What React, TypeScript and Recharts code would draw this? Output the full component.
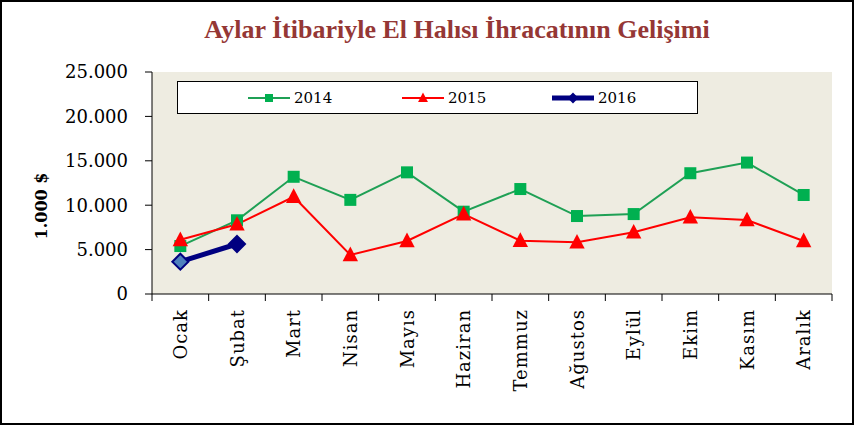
import React from 'react';
import { LineChart, Line, XAxis, YAxis, CartesianGrid, Legend, Label } from 'recharts';

const months = ['Ocak', 'Şubat', 'Mart', 'Nisan', 'Mayıs', 'Haziran', 'Temmuz', 'Ağustos', 'Eylül', 'Ekim', 'Kasım', 'Aralık'];
const values2014 = [5400, 8300, 13200, 10600, 13700, 9270, 11820, 8780, 9000, 13600, 14800, 11150];
const values2015 = [6100, 7850, 10950, 4400, 5970, 9000, 6000, 5820, 6950, 8640, 8330, 5970];
const values2016: (number | null)[] = [3640, 5630, null, null, null, null, null, null, null, null, null, null];
const yTicks = [0, 5000, 10000, 15000, 20000, 25000];

const data = months.map((m, i) => ({ month: m, y2014: values2014[i], y2015: values2015[i], y2016: values2016[i] }));

const TITLE = 'Aylar İtibariyle El Halısı İhracatının Gelişimi';
const Y_LABEL = '1.000 $';

const W = 854;
const H = 425;
const PLOT_LEFT = 152;
const PLOT_RIGHT = 832;
const PLOT_TOP = 72;
const PLOT_BOTTOM = 294;
const BAND = (PLOT_RIGHT - PLOT_LEFT) / months.length;

const GREEN_LINE = '#1FA055';
const GREEN = '#00B050';
const RED = '#FF0000';
const NAVY = '#000080';
const LIGHT_BLUE = '#4F81BD';
const SERIF = '"DejaVu Serif", serif';

const fmt = (v: number) => String(v).replace(/\B(?=(\d{3})+(?!\d))/g, '.');

const Square = ({ cx, cy, s = 12 }: any) => <rect x={cx - s / 2} y={cy - s / 2} width={s} height={s} fill={GREEN} />;
const Triangle = ({ cx, cy, s = 14 }: any) => (
  <polygon points={`${cx},${cy - s * 0.6} ${cx + s * 0.55},${cy + s * 0.45} ${cx - s * 0.55},${cy + s * 0.45}`} fill={RED} />
);
const Diamond = ({ cx, cy, s = 8, fill = NAVY }: any) => (
  <polygon points={`${cx},${cy - s} ${cx + s},${cy} ${cx},${cy + s} ${cx - s},${cy}`} fill={fill} stroke={NAVY} strokeWidth={2} />
);

const series = [
  { key: 'y2014', name: '2014', color: GREEN_LINE, width: 2 },
  { key: 'y2015', name: '2015', color: RED, width: 2 },
  { key: 'y2016', name: '2016', color: NAVY, width: 5 },
];

const XTick = (props: any) => {
  const { x, payload, index } = props;
  return (
    <g>
      <line x1={x - BAND / 2} x2={x - BAND / 2} y1={PLOT_BOTTOM} y2={PLOT_BOTTOM + 7} stroke="#000" strokeWidth={1} />
      {index === months.length - 1 && (
        <line x1={x + BAND / 2} x2={x + BAND / 2} y1={PLOT_BOTTOM} y2={PLOT_BOTTOM + 7} stroke="#000" strokeWidth={1} />
      )}
      <text
        x={x}
        y={PLOT_BOTTOM + 15}
        transform={`rotate(-90 ${x} ${PLOT_BOTTOM + 15})`}
        textAnchor="end"
        dominantBaseline="central"
        fontFamily={SERIF}
        fontSize={18}
        letterSpacing={1}
        fill="#000"
      >
        {payload.value}
      </text>
    </g>
  );
};

const LegendContent = (props: any) => {
  const payload = props.payload || [];
  const xs = [248, 402, 552];
  return (
    <svg width={521} height={33} style={{ display: 'block' }}>
      <rect x={0.5} y={0.5} width={520} height={32} fill="#fff" stroke="#000" strokeWidth={1} />
      {payload.map((p: any, i: number) => {
        const lx = xs[i] - 177;
        const cy = 17;
        const s = series.find((sr) => sr.key === p.dataKey) || series[i];
        return (
          <g key={p.value}>
            <line x1={lx} x2={lx + 42} y1={cy} y2={cy} stroke={s.color} strokeWidth={s.width} />
            {s.key === 'y2014' && <Square cx={lx + 21} cy={cy} s={8} />}
            {s.key === 'y2015' && <Triangle cx={lx + 21} cy={cy} s={9} />}
            {s.key === 'y2016' && <Diamond cx={lx + 21} cy={cy} s={4} />}
            <text x={lx + 46} y={cy} dominantBaseline="central" fontFamily={SERIF} fontSize={15} fill="#000">
              {p.value}
            </text>
          </g>
        );
      })}
    </svg>
  );
};

export default function App() {
  return (
    <div style={{ position: 'absolute', left: 0, top: 0, width: W, height: H, background: '#fff' }}>
      <div
        style={{
          position: 'absolute',
          left: 0,
          top: 15,
          width: 914,
          textAlign: 'center',
          fontFamily: '"Liberation Serif", serif',
          fontWeight: 'bold',
          fontSize: 26,
          color: '#953735',
          whiteSpace: 'nowrap',
        }}
      >
        {TITLE}
      </div>
      <LineChart
        width={W}
        height={H}
        data={data}
        margin={{ top: PLOT_TOP, right: W - PLOT_RIGHT, bottom: 31, left: 0 }}
      >
        <CartesianGrid fill="#EEECE1" horizontal={false} vertical={false} />
        <XAxis
          dataKey="month"
          interval={0}
          height={100}
          padding={{ left: BAND / 2, right: BAND / 2 }}
          tick={<XTick />}
          tickLine={false}
          axisLine={{ stroke: '#000', strokeWidth: 1 }}
        />
        <YAxis
          width={PLOT_LEFT}
          domain={[0, 25000]}
          ticks={yTicks}
          tickFormatter={fmt}
          tickSize={7}
          tickMargin={17}
          tickLine={{ stroke: '#000' }}
          axisLine={{ stroke: '#000', strokeWidth: 1 }}
          tick={{ fontFamily: SERIF, fontSize: 18, fill: '#000' }}
        >
          <Label
            content={() => (
              <text
                x={41}
                y={206}
                transform="rotate(-90 41 206)"
                textAnchor="middle"
                dominantBaseline="central"
                fontFamily={SERIF}
                fontWeight="bold"
                fontSize={16}
                fill="#000"
              >
                {Y_LABEL}
              </text>
            )}
          />
        </YAxis>
        <Legend
          layout="vertical"
          align="center"
          verticalAlign="middle"
          wrapperStyle={{ position: 'absolute', left: 177, top: 81, width: 521, height: 33 }}
          content={<LegendContent />}
        />
        <Line
          dataKey="y2014"
          name="2014"
          stroke={GREEN_LINE}
          strokeWidth={2}
          isAnimationActive={false}
          dot={(p: any) => <Square key={`a${p.index}`} cx={p.cx} cy={p.cy} />}
        />
        <Line
          dataKey="y2015"
          name="2015"
          stroke={RED}
          strokeWidth={2}
          isAnimationActive={false}
          dot={(p: any) => <Triangle key={`b${p.index}`} cx={p.cx} cy={p.cy} />}
        />
        <Line
          dataKey="y2016"
          name="2016"
          stroke={NAVY}
          strokeWidth={5}
          isAnimationActive={false}
          connectNulls={false}
          dot={(p: any) =>
            p.cy == null ? <g key={`c${p.index}`} /> : (
              <Diamond key={`c${p.index}`} cx={p.cx} cy={p.cy} fill={p.index === 0 ? LIGHT_BLUE : NAVY} />
            )
          }
        />
      </LineChart>
      <div
        style={{
          position: 'absolute',
          left: 0,
          top: 0,
          width: W,
          height: H,
          boxSizing: 'border-box',
          border: '2px solid #000',
          pointerEvents: 'none',
        }}
      />
    </div>
  );
}
